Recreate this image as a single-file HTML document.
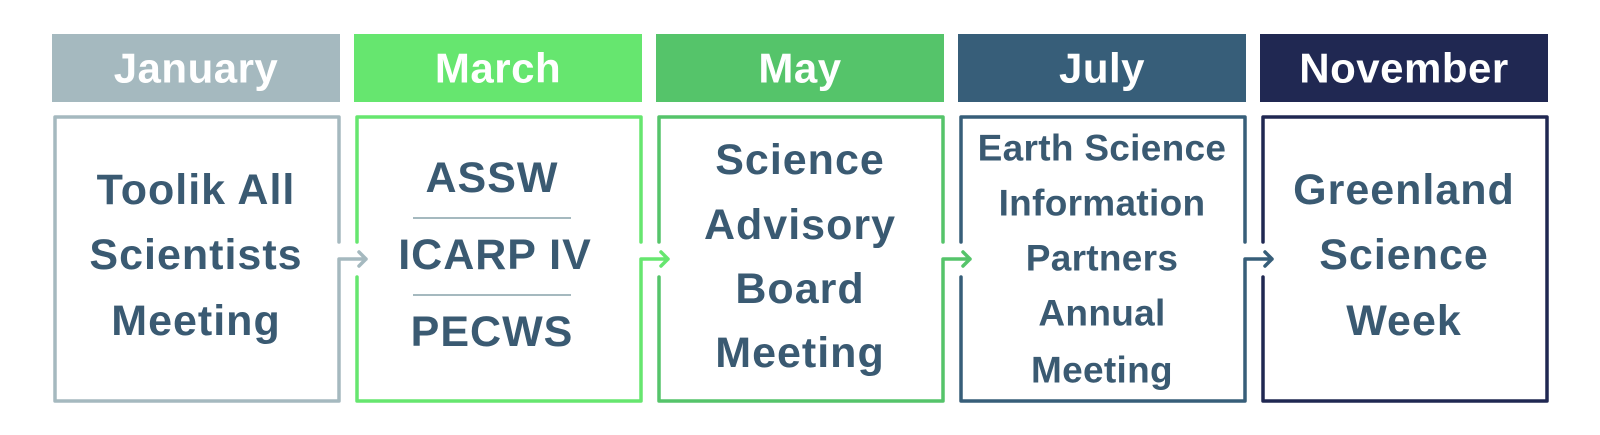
<!DOCTYPE html>
<html><head><meta charset="utf-8"><style>
html,body{margin:0;padding:0;background:#fff;}
svg{display:block;}
text{font-family:"Liberation Sans",sans-serif;font-weight:bold;text-anchor:middle;dominant-baseline:central;}
.b{fill:#3a5a72;font-size:43px;letter-spacing:1px;}
.h{fill:#fff;font-size:42px;letter-spacing:0.5px;}
.s{font-size:37px;letter-spacing:0.3px;}
</style></head><body>
<svg width="1600" height="435" viewBox="0 0 1600 435" xmlns="http://www.w3.org/2000/svg">
<rect x="52" y="34" width="288" height="68" fill="#a5b9bf"/>
<rect x="354" y="34" width="288" height="68" fill="#66e66f"/>
<rect x="656" y="34" width="288" height="68" fill="#55c46a"/>
<rect x="958" y="34" width="288" height="68" fill="#375e79"/>
<rect x="1260" y="34" width="288" height="68" fill="#202852"/>
<text class="h" x="196" y="68">January</text>
<text class="h" x="498" y="68">March</text>
<text class="h" x="800" y="68">May</text>
<text class="h" x="1102" y="68">July</text>
<text class="h" x="1404" y="68">November</text>
<g fill="none" stroke-width="3.5" stroke-linecap="round" stroke-linejoin="round">
<path d="M339 242 V117 H55 V401 H339 V259 H366 M359 252 L366 259 L359 266" stroke="#a5b9bf"/>
<path d="M357 242 V117 H641 V242 M357 277 V401 H641 V259 H668 M661 252 L668 259 L661 266" stroke="#66e66f"/>
<path d="M659 242 V117 H943 V242 M659 277 V401 H943 V259 H970 M963 252 L970 259 L963 266" stroke="#55c46a"/>
<path d="M961 242 V117 H1245 V242 M961 277 V401 H1245 V259 H1272 M1265 252 L1272 259 L1265 266" stroke="#375e79"/>
<path d="M1263 242 V117 H1547 V401 H1263 V277" stroke="#202852"/>
</g>
<line x1="413" y1="218" x2="571" y2="218" stroke="#a5b9bf" stroke-width="2"/>
<line x1="413" y1="295" x2="571" y2="295" stroke="#a5b9bf" stroke-width="2"/>
<text class="b" x="196" y="190">Toolik All</text>
<text class="b" x="196" y="255">Scientists</text>
<text class="b" x="196" y="321">Meeting</text>
<text class="b" x="492" y="178">ASSW</text>
<text class="b" x="495" y="255">ICARP IV</text>
<text class="b" x="492" y="332">PECWS</text>
<text class="b" x="800" y="160">Science</text>
<text class="b" x="800" y="225">Advisory</text>
<text class="b" x="800" y="289">Board</text>
<text class="b" x="800" y="353">Meeting</text>
<text class="b s" x="1102" y="148">Earth Science</text>
<text class="b s" x="1102" y="203">Information</text>
<text class="b s" x="1102" y="258">Partners</text>
<text class="b s" x="1102" y="313">Annual</text>
<text class="b s" x="1102" y="370">Meeting</text>
<text class="b" x="1404" y="190">Greenland</text>
<text class="b" x="1404" y="255">Science</text>
<text class="b" x="1404" y="321">Week</text>
</svg>
</body></html>
